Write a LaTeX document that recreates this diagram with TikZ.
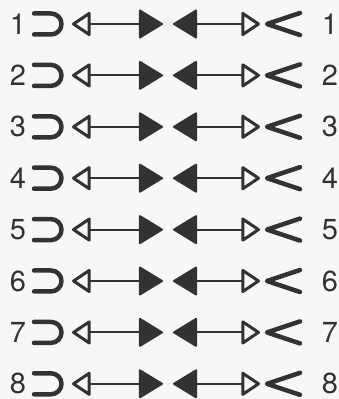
\documentclass[tikz,border=0pt]{standalone}
\usepackage{fontspec}
\setmainfont{TeX Gyre Heros}
\usetikzlibrary{arrows.meta}
\definecolor{inkGray}{RGB}{50,50,50}
\definecolor{paperBg}{RGB}{247,247,245}
\tikzset{
  openhead/.tip={Triangle[open, round, length=20pt, width=26pt, line width=3pt]},
  fullhead/.tip={Triangle[round, length=25pt, width=30pt]}
}

\begin{document}
\begin{tikzpicture}[x=1pt,y=1pt,
    numlabel/.style={font=\fontsize{29}{31}\selectfont, text=inkGray, inner sep=0pt},
    shaft/.style={draw=inkGray, line width=2pt},
    glyph/.style={draw=inkGray, line width=4.5pt, line cap=round, line join=round}
  ]
  \fill[paperBg] (0,0) rectangle (339,399);
  \useasboundingbox (0,0) rectangle (339,399);

  \foreach \i [evaluate=\i as \y using 375-51.4*(\i-1)] in {1,...,8}{
    \node[numlabel] (l\i) at (18,\y) {\i};
    \node[numlabel] (r\i) at (330,\y) {\i};
    \coordinate (a\i) at (72,\y);
    \coordinate (b\i) at (163,\y);
    \coordinate (c\i) at (173,\y);
    \coordinate (d\i) at (260,\y);

    % hook and open vee
    \draw[glyph] (34,\y+10.5) -- (51,\y+10.5)
      arc[start angle=90, end angle=-90, radius=10.5] -- (34,\y-10.5);
    \draw[glyph] (300,\y+11) -- (267,\y) -- (300,\y-11);

    % the two arrows
    \draw[shaft, {openhead}-{fullhead}] (a\i) -- (b\i);
    \draw[shaft, {fullhead}-{openhead}] (c\i) -- (d\i);
  }
\end{tikzpicture}
\end{document}
